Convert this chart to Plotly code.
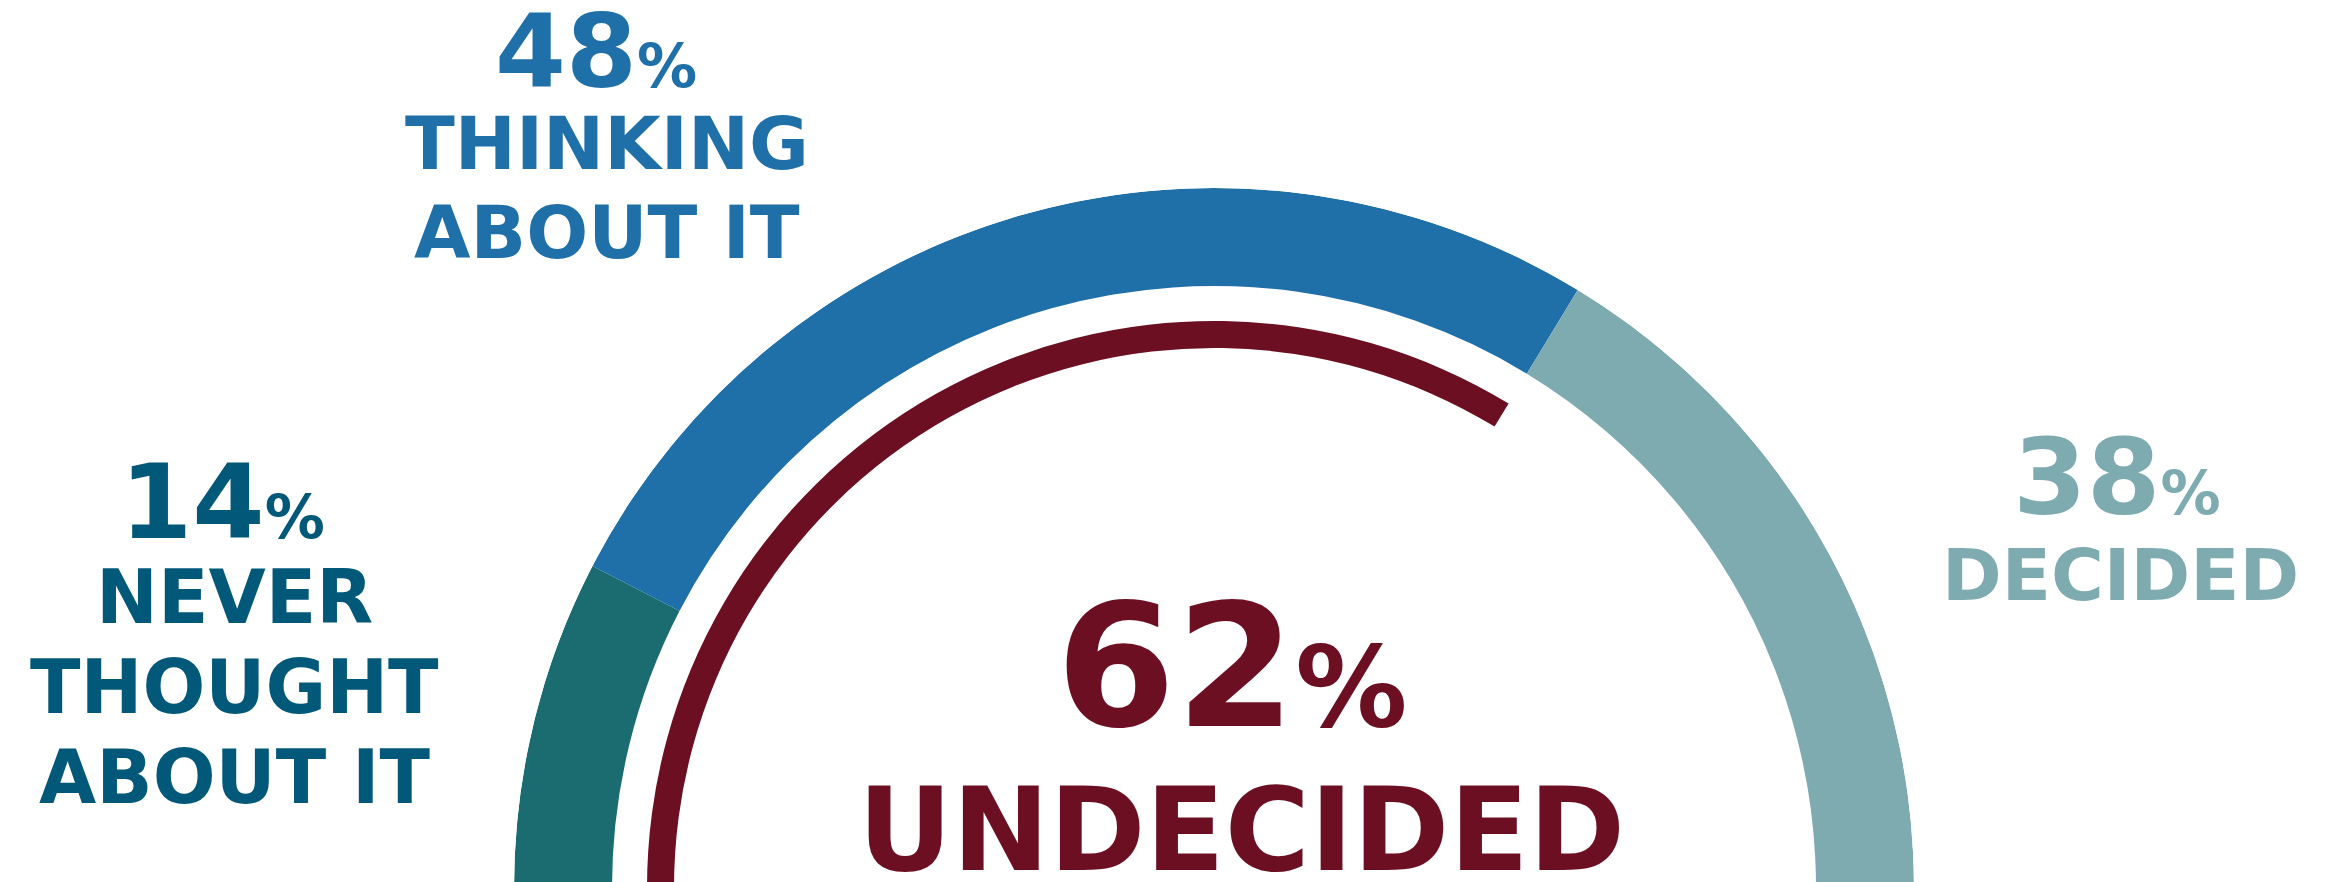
import plotly.graph_objects as go

# ---------------- data ----------------
categories = ["NEVER THOUGHT ABOUT IT", "THINKING ABOUT IT", "DECIDED"]
shares = [14, 48, 38]                       # percent, outer ring
undecided_label = "UNDECIDED"
undecided_share = 62                        # percent, inner arc

# ---------------- styles ----------------
W, H = 2331, 882
ring_colors = ["#1a6c70", "#1f6fa8", "#7eabb0"]
text_colors = ["#025878", "#1f6fa8", "#7eabb0"]
red = "#6c0f22"
# gauge scale: the visible half circle (180 deg) spans 0..92 % (last segment runs off the edge)
GAUGE_SPAN_PCT = 92
DEG_PER_PCT = 180 / GAUGE_SPAN_PCT

# angular positions derived from the shares
centers, widths = [], []
cum = 0
for v in shares:
    centers.append((cum + v / 2) * DEG_PER_PCT)
    widths.append(v * DEG_PER_PCT)
    cum += v

fig = go.Figure()
fig.add_trace(go.Barpolar(
    theta=centers, width=widths, r=[98] * len(shares), base=602,
    marker=dict(color=ring_colors, line=dict(width=0)),
    hoverinfo="skip", showlegend=False,
))
fig.add_trace(go.Barpolar(
    theta=[undecided_share * DEG_PER_PCT / 2], width=[undecided_share * DEG_PER_PCT],
    r=[27], base=540,
    marker=dict(color=red, line=dict(width=0)),
    hoverinfo="skip", showlegend=False,
))

FONT = "DejaVu Sans, Liberation Sans, Arial, sans-serif"
DY = -8  # vertical correction for annotation boxes

ann = []


def add(text, x, y, size, color, xanchor="center"):
    ann.append(dict(text=text, x=x / W, y=1 - (y + DY) / H, xref="paper", yref="paper",
                    xanchor=xanchor, yanchor="middle", showarrow=False,
                    font=dict(family=FONT, size=size, color=color, weight="bold")))


def pct(value, small):
    return f"{value}<span style='font-size:{small}px'>%</span>"


# left block: never thought
add(pct(shares[0], 60), 214, 502, 104, text_colors[0])
for txt, y in zip(["NEVER", "THOUGHT", "ABOUT IT"], [597, 687, 777]):
    add(txt, 226, y, 74, text_colors[0])

# top block: thinking
add(pct(shares[1], 60), 588, 52, 102, text_colors[1])
for txt, y in zip(["THINKING", "ABOUT IT"], [143, 232]):
    add(txt, 599, y, 73, text_colors[1])

# right block: decided
add(pct(shares[2], 60), 2109, 477, 106, text_colors[2])
add(categories[2], 2112, 575, 72, text_colors[2])

# center block: undecided
add(pct(undecided_share, 112), 1224, 666, 172, red)
add(undecided_label, 1233, 829, 116, red)

fig.update_layout(
    width=W, height=H,
    margin=dict(l=0, r=0, t=0, b=0),
    paper_bgcolor="white", plot_bgcolor="white",
    showlegend=False,
    annotations=ann,
    polar=dict(
        domain=dict(x=[506 / W, 1906 / W], y=[2 / H, 702 / H]),
        sector=[0, 180],
        bgcolor="rgba(0,0,0,0)",
        radialaxis=dict(range=[0, 700], visible=False, showgrid=False),
        angularaxis=dict(visible=False, showgrid=False, direction="clockwise",
                         rotation=180, thetaunit="degrees"),
    ),
)

fig.write_html("out.html")
